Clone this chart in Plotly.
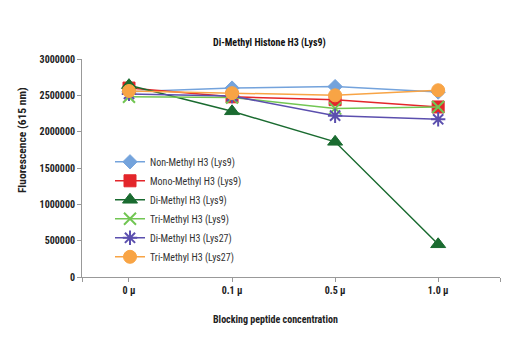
import plotly.graph_objects as go

categories = ["0 µ", "0.1 µ", "0.5 µ", "1.0 µ"]
series_names = ["Non-Methyl H3 (Lys9)", "Mono-Methyl H3 (Lys9)", "Di-Methyl H3 (Lys9)",
                "Tri-Methyl H3 (Lys9)", "Di-Methyl H3 (Lys27)", "Tri-Methyl H3 (Lys27)"]
non_methyl_k9 = [2550000, 2600000, 2620000, 2545000]
mono_methyl_k9 = [2600000, 2480000, 2440000, 2340000]
di_methyl_k9 = [2640000, 2280000, 1860000, 450000]
tri_methyl_k9 = [2480000, 2470000, 2320000, 2340000]
di_methyl_k27 = [2520000, 2490000, 2220000, 2170000]
tri_methyl_k27 = [2560000, 2530000, 2500000, 2570000]
y_ticks = [0, 500000, 1000000, 1500000, 2000000, 2500000, 3000000]

values = [non_methyl_k9, mono_methyl_k9, di_methyl_k9, tri_methyl_k9, di_methyl_k27, tri_methyl_k27]
colors = ["#74a3dc", "#e3262b", "#1a6b30", "#72c653", "#5b4fae", "#f8a445"]
symbols = ["diamond", "square", "triangle-up", "x-thin", "asterisk", "circle"]
sizes = [11, 12, 13, 12, 12, 13]

FONT = "Roboto Condensed, Liberation Sans Narrow, Arial Narrow, sans-serif"
xs = list(range(len(categories)))

fig = go.Figure()
for name, vals, c, s, sz in zip(series_names, values, colors, symbols, sizes):
    line_w = 2 if s in ("x-thin", "asterisk") else 1
    fig.add_trace(go.Scatter(
        x=xs, y=vals, name=name, mode="lines+markers",
        line=dict(color=c, width=1.5),
        marker=dict(symbol=s, size=sz, color=c, line=dict(color=c, width=line_w)),
    ))

fig.update_layout(
    width=520, height=350,
    margin=dict(l=82, r=20, t=59, b=73),
    paper_bgcolor="white", plot_bgcolor="white",
    font=dict(family=FONT, size=10, color="#222"),
    title=dict(text="<b>Di-Methyl Histone H3 (Lys9)</b>", x=0.518, xanchor="center",
               y=1 - 42 / 350, yanchor="middle", font=dict(size=10, family=FONT, color="#111")),
    showlegend=True,
    legend=dict(x=0.067, y=0.595, xanchor="left", yanchor="top", bgcolor="rgba(0,0,0,0)",
                font=dict(size=10, family=FONT, color="#333"),
                tracegroupgap=0, itemwidth=30),
    annotations=[
        dict(text="<b>Blocking peptide concentration</b>", xref="paper", yref="paper",
             x=0.464, y=-0.194, xanchor="center", yanchor="middle", showarrow=False,
             font=dict(size=10, family=FONT, color="#222")),
        dict(text="<b>Fluorescence (615 nm)</b>", xref="paper", yref="paper", textangle=-90,
             x=-0.1435, y=0.628, xanchor="center", yanchor="middle", showarrow=False,
             font=dict(size=11.5, family=FONT, color="#222")),
    ],
)
fig.update_xaxes(
    range=[-0.456, 3.6], showgrid=False, zeroline=False,
    showline=True, linecolor="#999", linewidth=1,
    tickmode="array", tickvals=[-0.456] + xs + [3.6], ticktext=[""] + [f"<b>{c}</b>" for c in categories] + [""],
    ticks="outside", ticklen=4, tickcolor="#999",
    tickfont=dict(size=10, family=FONT, color="#222"),
)
fig.update_yaxes(
    range=[0, 3000000], showgrid=False, zeroline=False,
    showline=True, linecolor="#999", linewidth=1,
    tickmode="array", tickvals=y_ticks, ticktext=[f"<b>{v}</b>" for v in y_ticks],
    ticks="outside", ticklen=4, tickcolor="#999",
    tickfont=dict(size=10, family=FONT, color="#222"),
)

fig.write_html("out.html")
